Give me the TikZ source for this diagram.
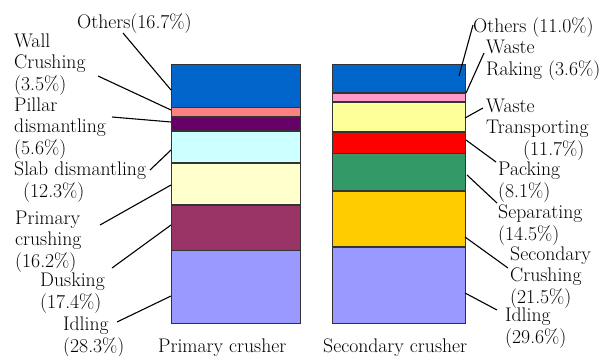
\documentclass[tikz,border=0pt]{standalone}
\usepackage{tikz}
\usetikzlibrary{positioning}

\begin{document}
\begin{tikzpicture}[x=1pt,y=-1pt,
	seg/.style 2 args={draw=black!80,line width=0.9pt,fill=#2,inner sep=0pt,
		minimum height=#1*2.6pt-0.9pt},
	left bar/.style={minimum width=129.1pt},
	right bar/.style={minimum width=133.1pt},
	lab/.style={font=\fontsize{19.7}{21.5}\selectfont,align=left,anchor=base west,inner sep=0pt},
	lead/.style={draw=black,line width=1.1pt}]
	
	\definecolor{othblue}{RGB}{0,102,204}
	\definecolor{wallpink}{RGB}{255,128,128}
	\definecolor{pillarpur}{RGB}{102,0,102}
	\definecolor{slabcyan}{RGB}{204,255,255}
	\definecolor{primyel}{RGB}{255,255,204}
	\definecolor{duskred}{RGB}{153,51,102}
	\definecolor{idleblue}{RGB}{153,153,255}
	\definecolor{rakepink}{RGB}{255,153,204}
	\definecolor{transyel}{RGB}{255,255,153}
	\definecolor{packred}{RGB}{255,0,0}
	\definecolor{sepgreen}{RGB}{51,153,102}
	\definecolor{secyel}{RGB}{255,204,0}
	
	\useasboundingbox (0,0) rectangle (616,356);
	
	% primary crusher
	\node[seg={16.7}{othblue},left bar,anchor=north] (pOth) at (236,64) {};
	\node[seg={3.5}{wallpink},left bar,below=0pt of pOth] (pWall) {};
	\node[seg={5.6}{pillarpur},left bar,below=0pt of pWall] (pPil) {};
	\node[seg={12.3}{slabcyan},left bar,below=0pt of pPil] (pSlab) {};
	\node[seg={16.2}{primyel},left bar,below=0pt of pSlab] (pPrim) {};
	\node[seg={17.4}{duskred},left bar,below=0pt of pPrim] (pDusk) {};
	\node[seg={28.3}{idleblue},left bar,below=0pt of pDusk] (pIdle) {};
	
	% secondary crusher
	\node[seg={11.0}{othblue},right bar,anchor=north] (sOth) at (399,64) {};
	\node[seg={3.6}{rakepink},right bar,below=0pt of sOth] (sRake) {};
	\node[seg={11.7}{transyel},right bar,below=0pt of sRake] (sTrans) {};
	\node[seg={8.1}{packred},right bar,below=0pt of sTrans] (sPack) {};
	\node[seg={14.5}{sepgreen},right bar,below=0pt of sPack] (sSep) {};
	\node[seg={21.5}{secyel},right bar,below=0pt of sSep] (sSec) {};
	\node[seg={29.6}{idleblue},right bar,below=0pt of sSec] (sIdle) {};
	
	% labels, placed at the baseline of their last line
	\node[lab] (lpOth) at (77,28) {Others(16.7\%)};
	\node[lab] (lpWall) at (14,90) {Wall\\Crushing\\(3.5\%)};
	\node[lab] (lpPil) at (14,154) {Pillar\\dismantling\\(5.6\%)};
	\node[lab] (lpSlab) at (14,197) {Slab dismantling\\\hspace*{9pt}(12.3\%)};
	\node[lab] (lpPrim) at (15,267) {Primary\\crushing\\(16.2\%)};
	\node[lab] (lpDusk) at (40,308) {Dusking\\(17.4\%)};
	\node[lab] (lpIdle) at (63,352) {Idling\\(28.3\%)};
	\node[lab] (pName) at (158,352) {Primary crusher};
	
	\node[lab] (lsOth) at (473,32) {Others (11.0\%)};
	\node[lab] (lsRake) at (486,75) {Waste\\Raking (3.6\%)};
	\node[lab] (lsTrans) at (486,155) {Waste\\Transporting\\\hspace*{37pt}(11.7\%)};
	\node[lab] (lsPack) at (498,197) {Packing\\(8.1\%)};
	\node[lab] (lsSep) at (498,240) {Separating\\(14.5\%)};
	\node[lab] (lsSec) at (510,303) {Secondary\\Crushing\\(21.5\%)};
	\node[lab] (lsIdle) at (505,343) {Idling\\(29.6\%)};
	\node[lab] (sName) at (323,352) {Secondary crusher};
	
	\coordinate (apOth) at (123,33);   \coordinate (bpOth) at (171,90);
	\coordinate (apWall) at (98,76);   \coordinate (bpWall) at (171,110);
	\coordinate (apPil) at (112,117);  \coordinate (bpPil) at (171,122);
	\coordinate (apSlab) at (150,170); \coordinate (bpSlab) at (171,150);
	\coordinate (apPrim) at (100,225); \coordinate (bpPrim) at (171,185);
	\coordinate (apDusk) at (112,268); \coordinate (bpDusk) at (171,225);
	\coordinate (apIdle) at (117,322); \coordinate (bpIdle) at (171,296);
	
	\coordinate (asOth) at (473,25);   \coordinate (bsOth) at (459,76);
	\coordinate (asRake) at (484,53);  \coordinate (bsRake) at (466,93);
	\coordinate (asTrans) at (483,108);\coordinate (bsTrans) at (465,118);
	\coordinate (asPack) at (496,162); \coordinate (bsPack) at (466,140);
	\coordinate (asSep) at (497,203);  \coordinate (bsSep) at (467,175);
	\coordinate (asSec) at (508,268);  \coordinate (bsSec) at (465,237);
	\coordinate (asIdle) at (497,310); \coordinate (bsIdle) at (465,293);
	
	\path[lead]
	(apOth) edge (bpOth)
	(apWall) edge (bpWall)
	(apPil) edge (bpPil)
	(apSlab) edge (bpSlab)
	(apPrim) edge (bpPrim)
	(apDusk) edge (bpDusk)
	(apIdle) edge (bpIdle)
	(asOth) edge (bsOth)
	(asRake) edge (bsRake)
	(asTrans) edge (bsTrans)
	(asPack) edge (bsPack)
	(asSep) edge (bsSep)
	(asSec) edge (bsSec)
	(asIdle) edge (bsIdle);
\end{tikzpicture}
\end{document}
